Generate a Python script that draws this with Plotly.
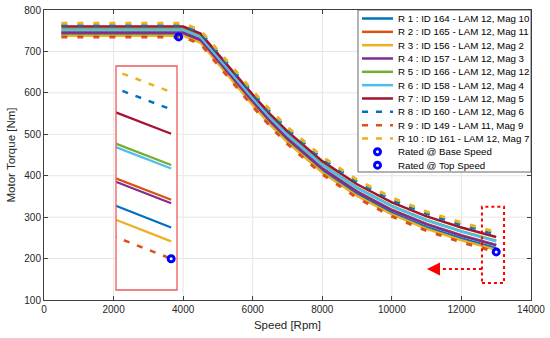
import plotly.graph_objects as go

# ---------------- data ----------------
speed = [500, 4000, 4500, 5000, 5500, 6000, 6500, 7000, 8000, 9000, 10000, 11000, 12000, 12750, 13000]

names = [
    "R 1 : ID 164 - LAM 12, Mag 10",
    "R 2 : ID 165 - LAM 12, Mag 11",
    "R 3 : ID 156 - LAM 12, Mag 2",
    "R 4 : ID 157 - LAM 12, Mag 3",
    "R 5 : ID 166 - LAM 12, Mag 12",
    "R 6 : ID 158 - LAM 12, Mag 4",
    "R 7 : ID 159 - LAM 12, Mag 5",
    "R 8 : ID 160 - LAM 12, Mag 6",
    "R 9 : ID 149 - LAM 11, Mag 9",
    "R 10 : ID 161 - LAM 12, Mag 7",
]

r1 = [741, 741, 724, 673.4, 622.8, 574.2, 526.6, 484, 411.4, 354.8, 310.2, 275.7, 248.3, 231.1, 225]
r2 = [747, 747, 730, 679.6, 629.2, 580.8, 533.4, 491, 418.6, 362.2, 317.8, 283.5, 256.2, 239, 233]
r3 = [738, 738, 721, 670.3, 619.6, 570.9, 523.2, 480.5, 407.8, 351.1, 306.4, 271.8, 244.3, 227.1, 221]
r4 = [745, 745, 728, 677.7, 627.4, 579.1, 531.8, 489.5, 417.2, 360.9, 316.6, 282.4, 255.1, 238, 232]
r5 = [754, 754, 737, 686.9, 636.8, 588.7, 541.6, 499.5, 427.4, 371.3, 327.2, 293.1, 266, 249, 243]
r6 = [752, 752, 735, 685, 635, 587, 540, 498, 426, 370, 326, 292, 265, 248, 242]
r7 = [760, 760, 743, 693.2, 643.4, 595.6, 548.8, 507, 435.2, 379.4, 335.6, 301.8, 274.9, 258, 252]
r8 = [763, 763, 746, 696.6, 647.2, 599.8, 553.4, 512, 440.6, 385.2, 341.8, 308.3, 281.7, 264.9, 259]
r9 = [735, 735, 718, 667.1, 616.2, 567.3, 519.4, 476.5, 403.6, 346.7, 301.8, 267.1, 239.4, 222.1, 216]
r10 = [768, 768, 751, 701.6, 652.2, 604.8, 558.4, 517, 445.6, 390.2, 346.8, 313.3, 286.7, 269.9, 264]
series = [r1, r2, r3, r4, r5, r6, r7, r8, r9, r10]

rated_base_speed = [3870]
rated_base_torque = [735]
rated_top_speed = [13000]
rated_top_torque = [216]
marker_names = ["Rated @ Base Speed", "Rated @ Top Speed"]

x_ticks = [0, 2000, 4000, 6000, 8000, 10000, 12000, 14000]
y_ticks = [100, 200, 300, 400, 500, 600, 700, 800]

# ---------------- styles ----------------
colors = ["#0072BD", "#D95319", "#EDB120", "#7E2F8E", "#77AC30",
          "#4DBEEE", "#A2142F", "#0072BD", "#D95319", "#EDB120"]
dashed = [False] * 7 + [True] * 3
BLUE = "#0000FF"
FONT = "Liberation Sans, Arial, sans-serif"
GRID = "#E6E6E6"

W, H = 550, 338
ML, MR, MT, MB = 44, 19, 10, 38
PW, PH = W - ML - MR, H - MT - MB
XR = [0, 14000]
YR = [100, 800]


def px(x):
    return (x - ML) / PW


def py(y):
    return (H - MB - y) / PH


def dx(xpix):  # pixel -> data x
    return XR[0] + (xpix - ML) / PW * (XR[1] - XR[0])


def dy(ypix):  # pixel -> data y
    return YR[0] + (H - MB - ypix) / PH * (YR[1] - YR[0])


fig = go.Figure()

# main curves
for i, (nm, ys) in enumerate(zip(names, series)):
    fig.add_trace(go.Scatter(
        x=speed, y=ys, mode="lines", name=nm, showlegend=False,
        line=dict(color=colors[i], width=3 if dashed[i] else 2.5,
                  dash="6px,10px" if dashed[i] else "solid"),
    ))
fig.add_trace(go.Scatter(x=rated_base_speed, y=rated_base_torque, mode="markers",
                         name=marker_names[0], showlegend=False,
                         marker=dict(symbol="circle-open", size=6, color=BLUE,
                                     line=dict(width=3, color=BLUE))))
fig.add_trace(go.Scatter(x=rated_top_speed, y=rated_top_torque, mode="markers",
                         name=marker_names[1], showlegend=False,
                         marker=dict(symbol="circle-open", size=6, color=BLUE,
                                     line=dict(width=3, color=BLUE))))

# inset (zoom around top speed)
for i, (nm, ys) in enumerate(zip(names, series)):
    fig.add_trace(go.Scatter(
        x=speed, y=ys, mode="lines", name=nm, showlegend=False,
        xaxis="x2", yaxis="y2",
        line=dict(color=colors[i], width=2.5 if dashed[i] else 2.2,
                  dash="6px,8px" if dashed[i] else "solid"),
    ))
fig.add_trace(go.Scatter(x=rated_top_speed, y=rated_top_torque, mode="markers",
                         showlegend=False, xaxis="x2", yaxis="y2",
                         marker=dict(symbol="circle-open", size=6, color=BLUE,
                                     line=dict(width=3, color=BLUE))))

shapes = []
annotations = []

# grid lines drawn as shapes below the traces (so the inset can hide them)
for v in x_ticks[1:-1]:
    shapes.append(dict(type="line", xref="x", yref="y", x0=v, x1=v, y0=YR[0], y1=YR[1],
                       line=dict(color=GRID, width=1), layer="below"))
for v in y_ticks[1:-1]:
    shapes.append(dict(type="line", xref="x", yref="y", x0=XR[0], x1=XR[1], y0=v, y1=v,
                       line=dict(color=GRID, width=1), layer="below"))

# inset box
ix0p, ix1p, iy0p, iy1p = 116, 177, 290, 66
shapes.append(dict(type="rect", xref="x", yref="y", x0=dx(ix0p), x1=dx(ix1p),
                   y0=dy(iy0p), y1=dy(iy1p),
                   fillcolor="white", line=dict(width=0), layer="below"))
ix0, ix1, iy0, iy1 = px(ix0p), px(ix1p), py(iy0p), py(iy1p)
shapes.append(dict(type="rect", xref="paper", yref="paper", x0=ix0, x1=ix1, y0=iy0, y1=iy1,
                   line=dict(color="#F05A5A", width=1.3), layer="above"))

# dotted box around top speed and dotted arrow
shapes.append(dict(type="rect", xref="x", yref="y", x0=12590, x1=13225, y0=141, y1=325,
                   line=dict(color="#FF0000", width=2, dash="dot"), layer="above"))
shapes.append(dict(type="line", xref="x", yref="y", x0=12590, x1=11250, y0=175, y1=175,
                   line=dict(color="#FF0000", width=2, dash="dot"), layer="above"))
annotations.append(dict(x=11010, y=175, xref="x", yref="y", ax=10, ay=0, text="",
                        showarrow=True, arrowhead=2, arrowsize=1.3, arrowwidth=2,
                        arrowcolor="#FF0000"))

# legend (manual)
lx0, lx1, ly0, ly1 = px(358), 1.0, py(172), 1.0
shapes.append(dict(type="rect", xref="paper", yref="paper", x0=lx0, x1=lx1, y0=ly0, y1=ly1,
                   fillcolor="white", line=dict(color="#404040", width=0.8), layer="above"))
row0, step = 18.5, 13.33
sx0, sx1, tx = px(362), px(393), px(397)
for i, nm in enumerate(names):
    yy = py(row0 + i * step)
    shapes.append(dict(type="line", xref="paper", yref="paper", x0=sx0, x1=sx1, y0=yy, y1=yy,
                       line=dict(color=colors[i], width=2.5,
                                 dash="6px,8px" if dashed[i] else "solid"), layer="above"))
    annotations.append(dict(x=tx, y=yy, xref="paper", yref="paper", text=nm, showarrow=False,
                            xanchor="left", yanchor="middle", borderpad=0,
                            font=dict(family=FONT, size=9.7, color="#000000")))
for j, nm in enumerate(marker_names):
    yy = py(row0 + (10 + j) * step)
    shapes.append(dict(type="circle", xref="paper", yref="paper", xsizemode="pixel",
                       ysizemode="pixel", xanchor=px(377.5), yanchor=yy,
                       x0=-3, x1=3, y0=-3, y1=3, line=dict(color=BLUE, width=3), layer="above"))
    annotations.append(dict(x=tx, y=yy, xref="paper", yref="paper", text=nm, showarrow=False,
                            xanchor="left", yanchor="middle", borderpad=0,
                            font=dict(family=FONT, size=9.7, color="#000000")))

axis_common = dict(showline=True, linecolor="#404040", linewidth=1, mirror="ticks",
                   ticks="inside", ticklen=4, tickcolor="#404040",
                   showgrid=False, zeroline=False, automargin=False,
                   tickfont=dict(family=FONT, size=10, color="#262626"))

fig.update_layout(
    width=W, height=H,
    margin=dict(l=ML, r=MR, t=MT, b=MB),
    paper_bgcolor="white", plot_bgcolor="white",
    showlegend=False,
    hovermode=False,
    font=dict(family=FONT, color="#262626"),
    xaxis=dict(range=XR, tickvals=x_ticks, ticktext=[str(v) for v in x_ticks],
               title=dict(text="Speed [Rpm]", font=dict(family=FONT, size=11.5, color="#262626"),
                          standoff=6),
               **axis_common),
    yaxis=dict(range=YR, tickvals=y_ticks, ticktext=[str(v) for v in y_ticks],
               title=dict(text="Motor Torque [Nm]", font=dict(family=FONT, size=11.5, color="#262626"),
                          standoff=6),
               **axis_common),
    xaxis2=dict(domain=[ix0, ix1], anchor="y2", range=[12745, 13027], visible=False),
    yaxis2=dict(domain=[iy0, iy1], anchor="x2", range=[207, 271.5], visible=False),
    shapes=shapes,
    annotations=annotations,
)

fig.write_html("out.html", config={"displayModeBar": False},
               post_script="document.body.style.margin='0';")
